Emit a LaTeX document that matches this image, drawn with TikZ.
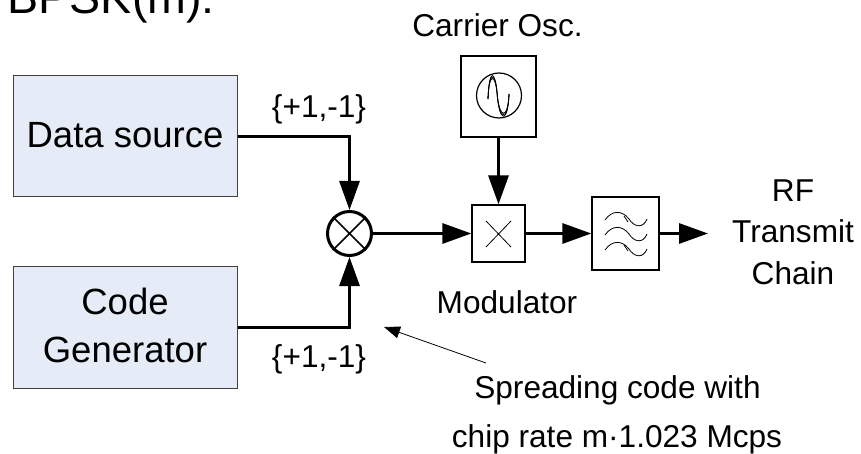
\documentclass[tikz,border=0pt]{standalone}
\usepackage{fontspec}
\setmainfont{Liberation Sans}
\usepackage{tikz}
\usetikzlibrary{arrows.meta}
\definecolor{boxblue}{HTML}{E6ECF7}
\tikzset{
  srcbox/.style={draw=black!75,line width=1pt,fill=boxblue,minimum width=224pt,inner sep=0pt,font=\fontsize{36.5pt}{48pt}\selectfont,align=center},
  blockbox/.style={draw=black,line width=1.3pt,inner sep=0pt},
  lab/.style={inner sep=0pt,anchor=base,font=\fontsize{31.6pt}{40pt}\selectfont},
  sig/.style={line width=3pt,-{Triangle[length=29pt,width=20pt]}},
  thin glyph/.style={line width=.8pt},
}
\begin{document}
\begin{tikzpicture}[x=1pt,y=-1pt]
    \useasboundingbox (0,0) rectangle (861,454);
    \clip (0,0) rectangle (861,454);
    \node[inner sep=0pt,anchor=base west,font=\fontsize{46.6pt}{50pt}\selectfont] (title) at (7.5,14) {BPSK(m):};
    % sources
    \node[srcbox,minimum height=121pt,text height=23pt,text depth=0pt] (data) at (125,136.5) {Data source};
    \node[srcbox,minimum height=122pt] (code) at (125,327) {Code\\Generator\rule[-2.6pt]{0pt}{0pt}};
    \node[draw,circle,line width=3pt,minimum size=44pt,inner sep=0pt] (mixer) at (349.5,233.5) {};
    \draw[line width=1.5pt] (mixer.45) -- (mixer.225) (mixer.135) -- (mixer.315);
    % carrier and modulator
    \node[blockbox,minimum width=75pt,minimum height=81pt] (osc) at (498.5,96.5) {};
    \node[draw,circle,line width=1.2pt,minimum size=45pt,inner sep=0pt] (sine) at (499,95.5) {};
    \foreach \d in {-2,0,2}
        \draw[thin glyph] (488,99) .. controls (489,{70+\d}) and (495,{72+\d}) .. (497,92) .. controls (499,{122-\d}) and (508,{122-\d}) .. (509,94);
    \node[blockbox,minimum width=53pt,minimum height=57pt] (mod) at (498.5,233.5) {};
    \draw[thin glyph] (486,221) -- (511,247) (486,247) -- (511,221);
    \node[blockbox,minimum width=67pt,minimum height=73pt] (filter) at (625.5,233.5) {};
    \foreach \y in {0,15,30}
        \draw[thin glyph] (605,{220+\y}) .. controls (612,{210+\y}) and (622,{210+\y}) .. (629,{219+\y}) .. controls (634,{227+\y}) and (643,{229+\y}) .. (647,{219+\y});
    \draw[thin glyph] (624,216) -- (628,222) (624,245) -- (628,251);
    % connectors
    \coordinate (txout) at (708,233.5);
    \draw[sig] (data.east) -| (mixer.north);
    \draw[sig] (code.east) -| (mixer.south);
    \draw[sig] (mixer.east) -- (mod.west);
    \draw[sig] (osc.south) -- (mod.north);
    \draw[sig] (mod.east) -- (filter.west);
    \draw[sig] (filter.east) -- (txout);
    % labels
    \node[lab] (carrier) at (497.5,37) {Carrier Osc.};
    \node[lab] (upper) at (319,118) {\{+1,-1\}};
    \node[lab] (lower) at (319,367) {\{+1,-1\}};
    \node[lab] (modlab) at (507,313) {Modulator};
    \node[lab] (rf) at (793,202) {RF};
    \node[lab] (transmit) at (793,243) {Transmit};
    \node[lab] (chain) at (793,284) {Chain};
    \node[lab] (spread) at (617.5,398) {Spreading code with};
    \node[lab] (chip) at (617,447) {chip rate m\textperiodcentered 1.023 Mcps};
    \coordinate (spreadtail) at (486,363);
    \coordinate (spreadhead) at (384,327);
    \draw[line width=.8pt,-{Triangle[length=16pt,width=12pt]}] (spreadtail) -- (spreadhead);
\end{tikzpicture}
\end{document}
